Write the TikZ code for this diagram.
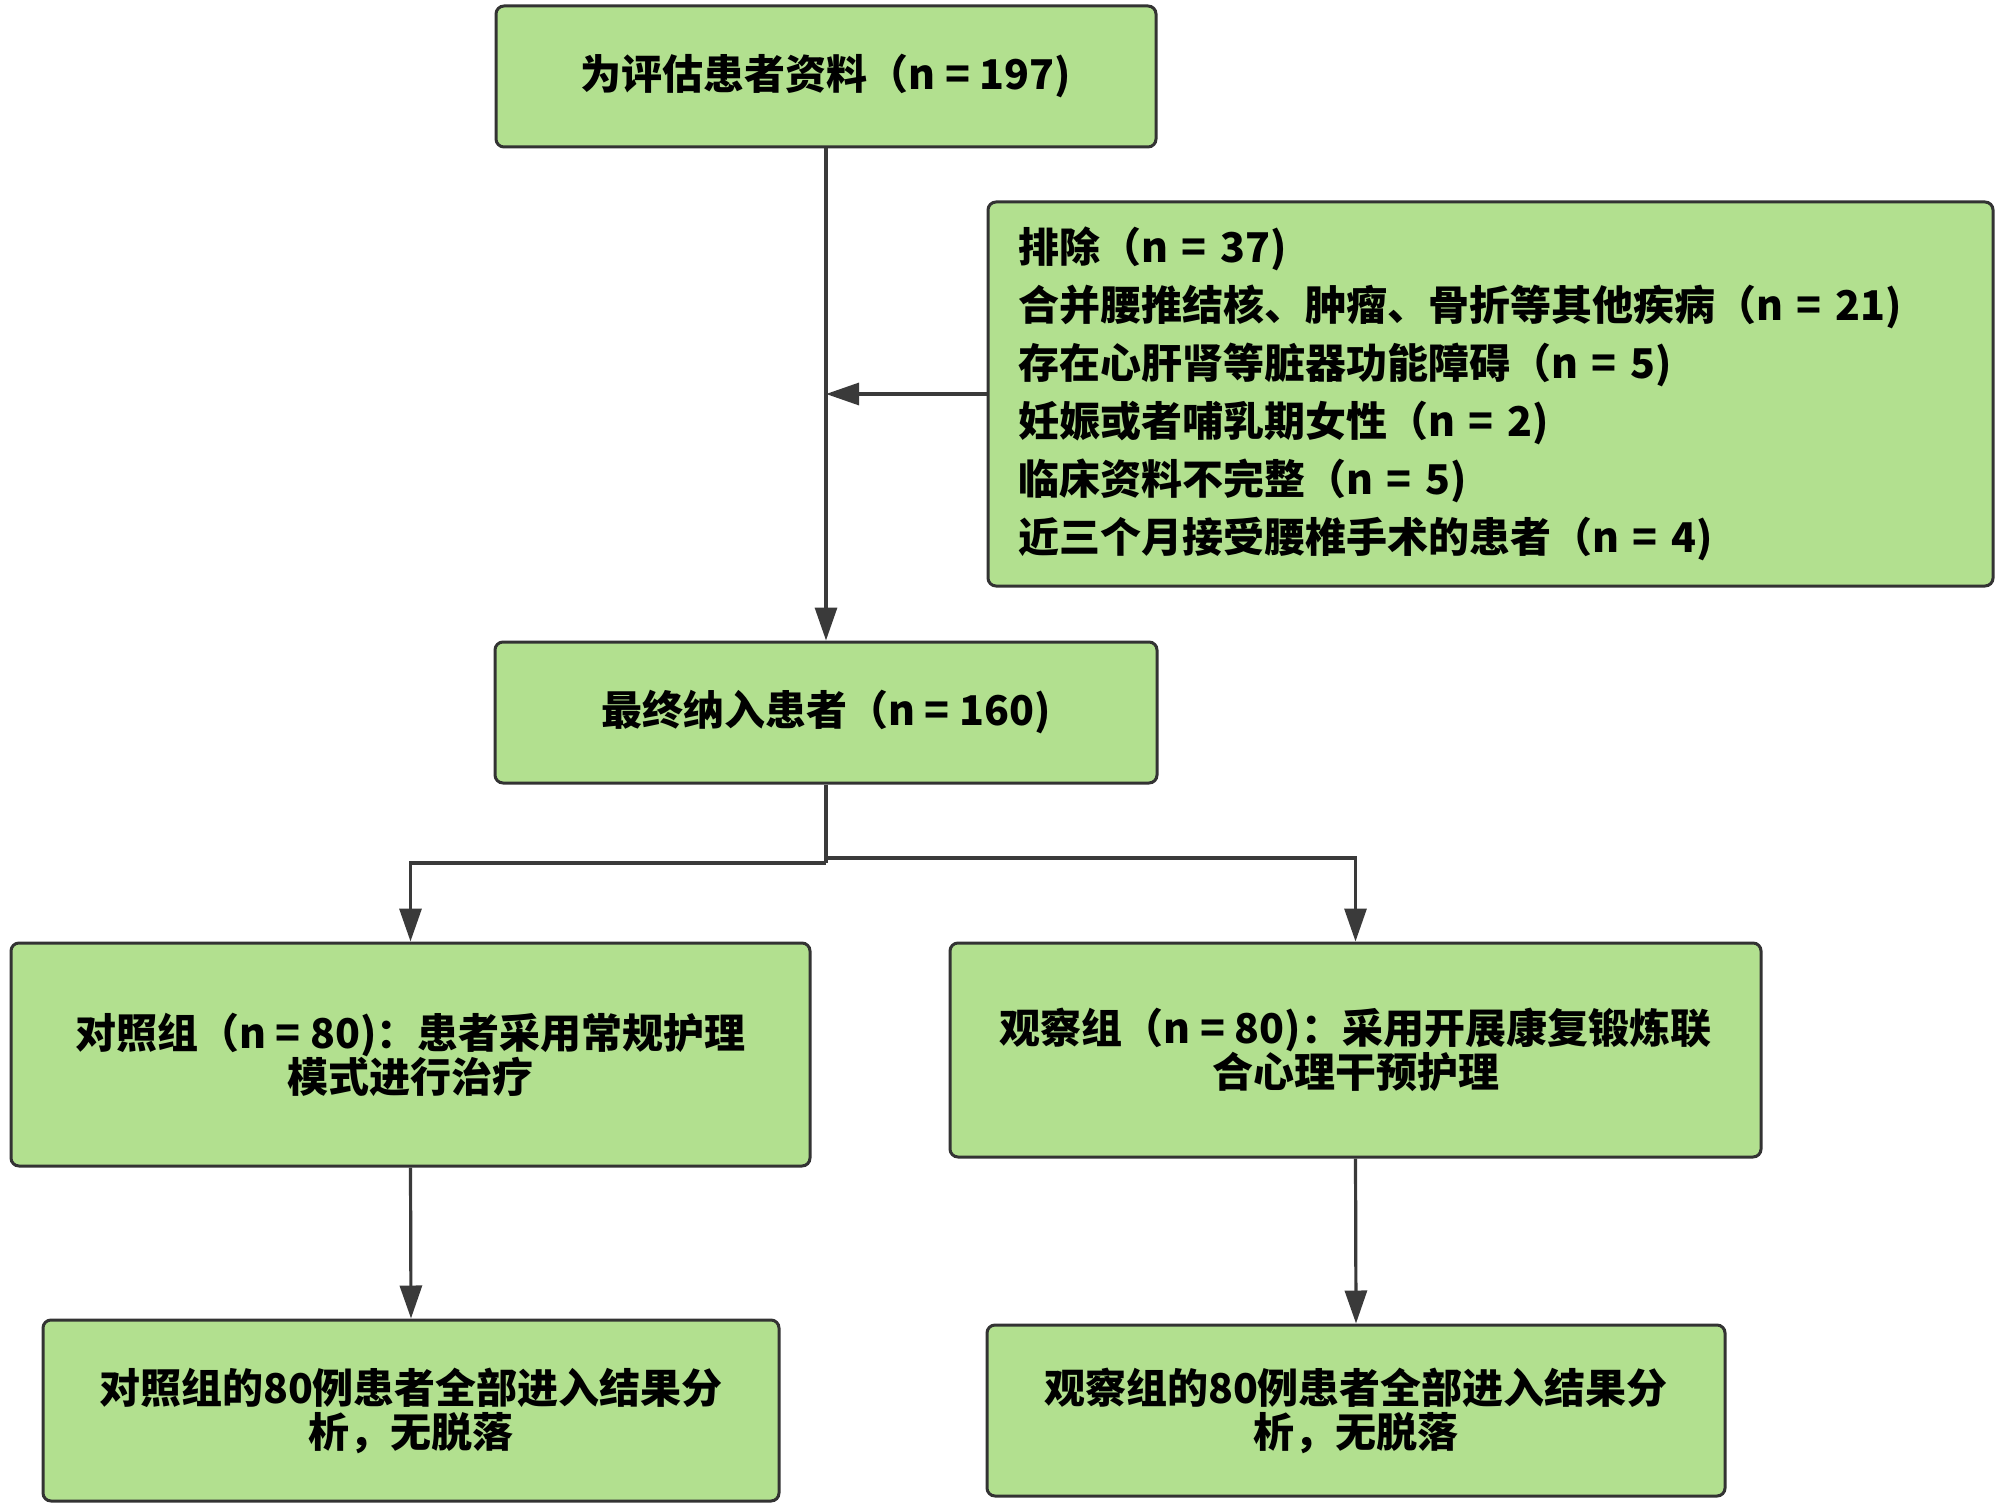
\documentclass[tikz,border=0pt]{standalone}
\usepackage{fontspec}
\setmainfont{Noto Sans CJK SC}
\usetikzlibrary{arrows.meta}
\definecolor{boxgreen}{RGB}{178,224,143}
\definecolor{edge}{RGB}{51,51,51}
\definecolor{linegray}{RGB}{58,58,58}
\tikzset{
  box/.style={draw=edge, line width=1.5pt, fill=boxgreen, rounded corners=4pt,
    inner sep=0pt, align=center, font=\bfseries\fontsize{20.5pt}{22pt}\selectfont},
  arr/.style={draw=linegray, line width=1.6pt,
    -{Triangle[length=16.5pt,width=11pt]}},
  conn/.style={draw=linegray, line width=1.6pt}
}
\begin{document}
\begin{tikzpicture}[x=0.5pt,y=-0.5pt]
\useasboundingbox (0,0) rectangle (2000,1508);
\node[box, minimum width=330pt, minimum height=70.5pt] (top) at (826,76.5) {为评估患者资料（n = 197)};
\node[box, align=left, text width=472.5pt, inner xsep=15pt, minimum height=192pt,
  font=\bfseries\fontsize{20.5pt}{29pt}\selectfont] (excl) at (1490.5,394)
  {排除（n = 37)\\
   合并腰推结核、肿瘤、骨折等其他疾病（n = 21)\\
   存在心肝肾等脏器功能障碍（n = 5)\\
   妊娠或者哺乳期女性（n = 2)\\
   临床资料不完整（n = 5)\\
   近三个月接受腰椎手术的患者（n = 4)};
\node[box, minimum width=331pt, minimum height=70.5pt] (mid) at (826,712.5) {最终纳入患者（n = 160)};
\node[box, minimum width=399.5pt, minimum height=111.5pt] (left) at (410.5,1054.5)
  {对照组（n = 80)：患者采用常规护理\\模式进行治疗};
\node[box, minimum width=405.5pt, minimum height=107pt] (right) at (1355.5,1050)
  {观察组（n = 80)：采用开展康复锻炼联\\合心理干预护理};
\node[box, minimum width=368pt, minimum height=90.5pt] (bl) at (411,1410.5)
  {对照组的80例患者全部进入结果分\\析，无脱落};
\node[box, minimum width=369pt, minimum height=85.5pt] (br) at (1356,1410.5)
  {观察组的80例患者全部进入结果分\\析，无脱落};
\coordinate (jl) at (826,863);
\coordinate (jr) at (826,858);
\coordinate (hit) at (826,394);
\draw[arr] (top.south) -- (mid.north);
\draw[arr] (excl.west) -- (hit);
\draw[conn] (mid.south) -- (jl);
\draw[arr] (jl) -| (left.north);
\draw[arr] (jr) -| (right.north);
\draw[arr] (left.south) -- (bl.north);
\draw[arr] (right.south) -- (br.north);
\end{tikzpicture}
\end{document}
